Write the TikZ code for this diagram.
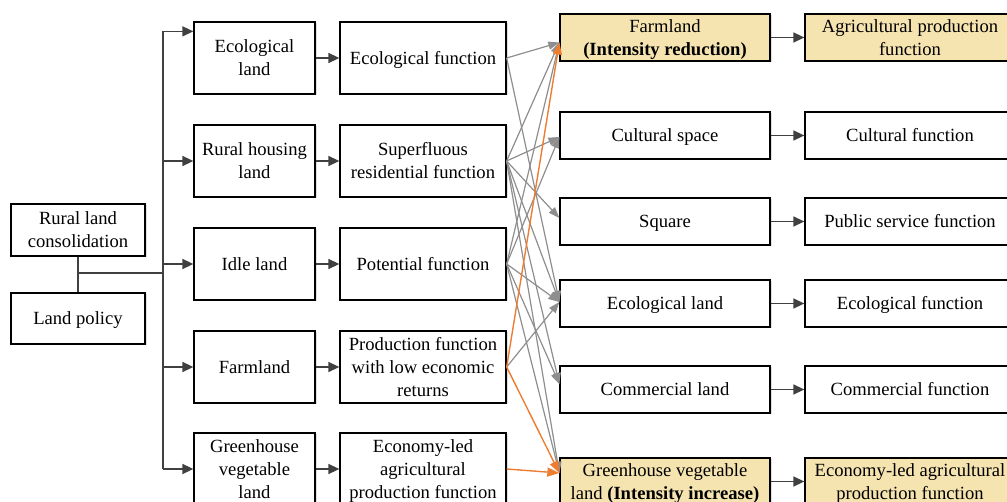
\documentclass[tikz,border=0pt]{standalone}
\usepackage{fontspec}
\setmainfont{Liberation Serif}
\usetikzlibrary{arrows.meta,calc,shadows}
\definecolor{boxfill}{RGB}{246,228,176}
\definecolor{linkgray}{RGB}{142,142,142}
\definecolor{linkorange}{RGB}{237,125,49}
\definecolor{darkline}{RGB}{64,64,64}
% strut giving the first and last line the full font line box (16.6pt up, 4pt down)
\newcommand{\boxstrut}{\rule[-4pt]{0pt}{20.6pt}}
\newcommand{\bx}[1]{\boxstrut#1\boxstrut}
\begin{document}
\begin{tikzpicture}[x=1pt,y=-1pt,
  box/.style={draw=black,line width=1.3pt,fill=white,inner sep=0pt,align=center,
              font=\fontsize{18.6}{23}\selectfont,text=black,
              drop shadow={shadow xshift=1.5pt,shadow yshift=-1.5pt,fill=black,opacity=0.12}},
  leftbox/.style={box,minimum width=134pt,minimum height=52pt},
  landbox/.style={box,minimum width=121pt,minimum height=72pt},
  funcbox/.style={box,minimum width=166pt,minimum height=72pt},
  outbox/.style={box,minimum width=210pt,minimum height=47pt},
  hilite/.style={fill=boxfill},
  mainline/.style={draw=darkline,line width=1.5pt},
  mainarrow/.style={mainline,-{Triangle[length=11pt,width=10pt]}},
  grayarrow/.style={draw=linkgray,line width=1.2pt,-{Triangle[length=11pt,width=8pt]}},
  orangearrow/.style={draw=linkorange,line width=1.4pt,-{Triangle[length=12pt,width=9pt]}},
]
\clip (0,0) rectangle (1007,502);

% policy inputs
\node[leftbox] (rlc) at (78,230) {\bx{Rural land\\consolidation}};
\node[leftbox,minimum height=51pt] (lp) at (78,318.5) {\bx{Land policy}};

% land types before consolidation
\node[landbox] (a1) at (254.5,58)  {\bx{Ecological\\land}};
\node[landbox] (a2) at (254.5,161) {\bx{Rural housing\\land}};
\node[landbox] (a3) at (254.5,264) {\bx{Idle land}};
\node[landbox] (a4) at (254.5,367) {\bx{Farmland}};
\node[landbox] (a5) at (254.5,469) {\bx{Greenhouse\\vegetable\\land}};

% their functions
\node[funcbox] (b1) at (423,58)  {\bx{Ecological function}};
\node[funcbox] (b2) at (423,161) {\bx{Superfluous\\residential function}};
\node[funcbox] (b3) at (423,264) {\bx{Potential function}};
\node[funcbox] (b4) at (423,367) {\bx{Production function\\with low economic\\returns}};
\node[funcbox] (b5) at (423,469) {\bx{Economy-led\\agricultural\\production function}};

% land types after consolidation
\node[outbox,hilite] (c1) at (665,37.5) {\bx{Farmland\\\textbf{(Intensity reduction)}}};
\node[outbox] (c2) at (665,135.5) {\bx{Cultural space}};
\node[outbox] (c3) at (665,221.5) {\bx{Square}};
\node[outbox] (c4) at (665,303.5) {\bx{Ecological land}};
\node[outbox] (c5) at (665,389.5) {\bx{Commercial land}};
\node[outbox,hilite] (c6) at (665,481.5) {\bx{Greenhouse vegetable\\land \textbf{(Intensity increase)}}};

% resulting functions
\node[outbox,hilite] (d1) at (910,37.5) {\bx{Agricultural production\\function}};
\node[outbox] (d2) at (910,135.5) {\bx{Cultural function}};
\node[outbox] (d3) at (910,221.5) {\bx{Public service function}};
\node[outbox] (d4) at (910,303.5) {\bx{Ecological function}};
\node[outbox] (d5) at (910,389.5) {\bx{Commercial function}};
\node[outbox,hilite] (d6) at (910,481.5) {\bx{Economy-led agricultural\\production function}};

% trunk feeding the land types
\coordinate (jn) at (78,273);
\coordinate (tk) at (163,273);
\coordinate (a1in) at ($(a1.north west)+(0,10)$);
\draw[mainline] (rlc.south) -- (lp.north);
\draw[mainline] (jn) -- (tk);
\draw[mainarrow] (tk |- a5.west) -- (tk |- a1in) -- (a1in);
\foreach \i in {2,...,5}
  \draw[mainarrow] (tk |- a\i.west) -- (a\i.west);

% land type -> function
\foreach \i in {1,...,5}
  \draw[mainarrow] (a\i.east) -- (b\i.west);

% new land type -> new function
\foreach \i in {1,...,6}
  \draw[mainarrow] (c\i.east) -- (d\i.west);

% entry points on the left side of the new land types
\coordinate (c1in) at ($(c1.west)+(0,5)$);
\coordinate (c2in) at ($(c2.west)+(0,1.5)$);
\coordinate (c3in) at ($(c3.west)+(0,-3.5)$);
\coordinate (c4in) at ($(c4.west)+(0,-1.5)$);
\coordinate (c5in) at ($(c5.west)+(0,-5.5)$);
\coordinate (c6in) at ($(c6.west)+(0,-8.5)$);

% transformations
\foreach \s/\t in {b1/c1,b1/c4,
                   b2/c1,b2/c2,b2/c3,b2/c4,b2/c5,b2/c6,
                   b3/c1,b3/c2,b3/c4,b3/c5,b3/c6,
                   b4/c4}
  \draw[grayarrow] (\s.east) -- (\t in);
\foreach \s/\t in {b4/c1,b4/c6,b5/c6}
  \draw[orangearrow] (\s.east) -- (\t in);
\end{tikzpicture}
\end{document}
